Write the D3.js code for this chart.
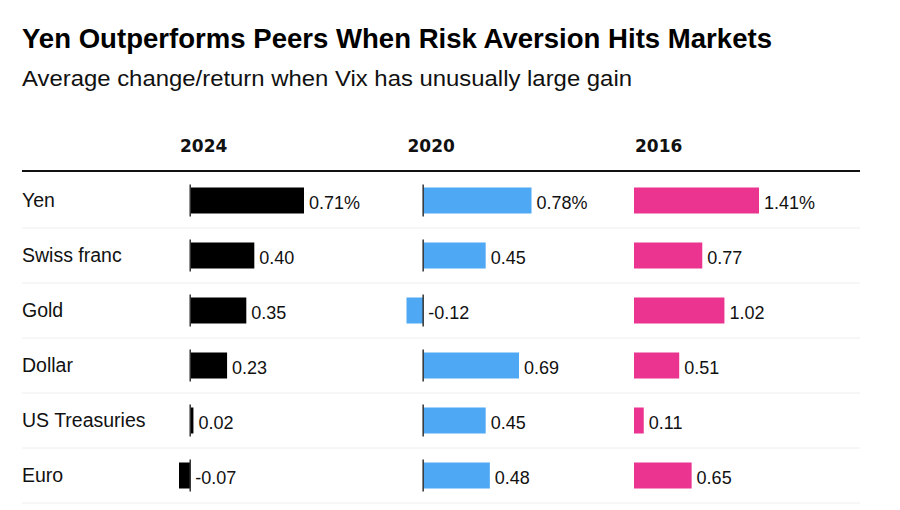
<!DOCTYPE html>
<html><head><meta charset="utf-8">
<script src="https://cdn.jsdelivr.net/npm/d3@7"></script>
<style>body{margin:0;background:#fff}svg{display:block}</style>
</head><body>
<script>
const categories = ["Yen","Swiss franc","Gold","Dollar","US Treasuries","Euro"];
const years = ["2024","2020","2016"];
const values2024 = [0.71,0.40,0.35,0.23,0.02,-0.07];
const values2020 = [0.78,0.45,-0.12,0.69,0.45,0.48];
const values2016 = [1.41,0.77,1.02,0.51,0.11,0.65];
const seriesValues = [values2024, values2020, values2016];
const colors = ["#000000","#4ea8f4","#ea348f"];
const title = "Yen Outperforms Peers When Risk Aversion Hits Markets";
const subtitle = "Average change/return when Vix has unusually large gain";

const W=900,H=510;
const svg=d3.select("body").append("svg").attr("width",W).attr("height",H);

svg.append("text").attr("x",22).attr("y",48).text(title)
  .attr("font-family","'Liberation Sans',Arial,sans-serif")
  .attr("font-weight","bold").attr("font-size",28.5).attr("fill","#000")
  .attr("textLength",750).attr("lengthAdjust","spacingAndGlyphs");
svg.append("text").attr("x",22).attr("y",86).text(subtitle)
  .attr("font-family","'Liberation Sans',Arial,sans-serif")
  .attr("font-size",21.5).attr("fill","#111")
  .attr("textLength",610).attr("lengthAdjust","spacingAndGlyphs");

const y=d3.scaleBand().domain(categories).range([173,503]);
const panelX=d3.scalePoint().domain(years).range([179,634]);
const panelW=125;
const barH=26;

svg.append("line").attr("x1",22).attr("x2",860).attr("y1",171).attr("y2",171)
  .attr("stroke","#111").attr("stroke-width",2);

svg.append("g").selectAll("line").data(categories).join("line")
  .attr("x1",22).attr("x2",860)
  .attr("y1",d=>y(d)+y.bandwidth()).attr("y2",d=>y(d)+y.bandwidth())
  .attr("stroke","#eeeeee").attr("stroke-width",1);

svg.append("g").selectAll("text").data(categories).join("text")
  .attr("x",22).attr("y",d=>y(d)+y.bandwidth()/2+6.5).text(d=>d)
  .attr("font-family","'Liberation Sans',Arial,sans-serif").attr("font-size",19.5).attr("fill","#111");

years.forEach((yr,i)=>{
  const vals=seriesValues[i];
  const left=panelX(yr);
  const mn=Math.min(0,d3.min(vals)), mx=d3.max(vals);
  const x=d3.scaleLinear().domain([mn,mx]).range([left,left+panelW]);
  const g=svg.append("g");
  g.append("text").attr("x",left+1).attr("y",152).text(yr)
    .attr("font-family","'DejaVu Sans',sans-serif").attr("font-weight","bold").attr("font-size",17).attr("fill","#111");
  const data=categories.map((c,j)=>({c,v:vals[j],j}));
  g.selectAll("rect").data(data).join("rect")
    .attr("x",d=>x(Math.min(0,d.v))).attr("width",d=>Math.abs(x(d.v)-x(0)))
    .attr("y",d=>y(d.c)+y.bandwidth()/2-barH/2).attr("height",barH)
    .attr("fill",colors[i]);
  if(mn<0){
    g.selectAll("line.zero").data(data).join("line").attr("class","zero")
      .attr("x1",x(0)).attr("x2",x(0))
      .attr("y1",d=>y(d.c)+y.bandwidth()/2-16).attr("y2",d=>y(d.c)+y.bandwidth()/2+16)
      .attr("stroke","#333").attr("stroke-width",1.5);
  }
  g.selectAll("text.val").data(data).join("text").attr("class","val")
    .attr("x",d=>Math.max(x(d.v),x(0))+5)
    .attr("y",d=>y(d.c)+y.bandwidth()/2+8)
    .text(d=>d3.format(".2f")(d.v).replace("−","-")+(d.j===0?"%":""))
    .attr("font-family","'Liberation Sans',Arial,sans-serif").attr("font-size",18).attr("fill","#111");
});
</script>
</body></html>
